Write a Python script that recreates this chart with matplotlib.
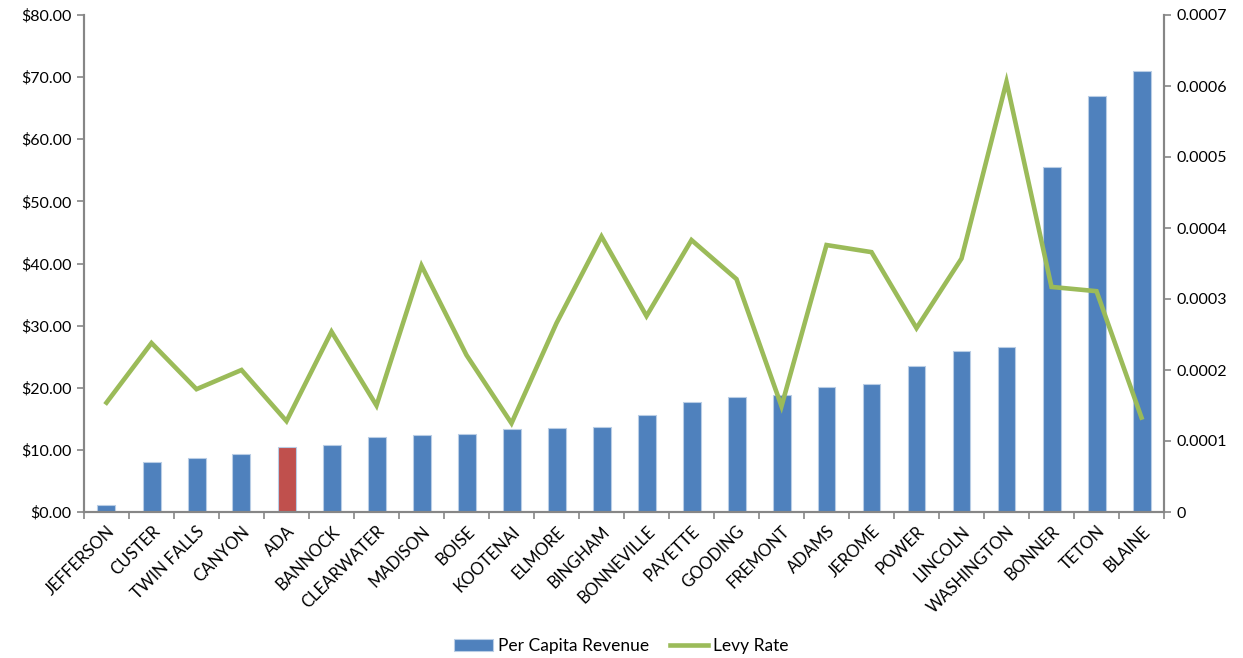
#!/usr/bin/env python3

import numpy as np
import matplotlib
matplotlib.use("Agg")
import matplotlib.pyplot as plt
from matplotlib.ticker import FuncFormatter, FixedLocator

counties = ["JEFFERSON", "CUSTER", "TWIN FALLS", "CANYON", "ADA", "BANNOCK",
            "CLEARWATER", "MADISON", "BOISE", "KOOTENAI", "ELMORE", "BINGHAM",
            "BONNEVILLE", "PAYETTE", "GOODING", "FREMONT", "ADAMS", "JEROME",
            "POWER", "LINCOLN", "WASHINGTON", "BONNER", "TETON", "BLAINE"]
per_capita = [1.2, 8.06, 8.77, 9.37, 10.46, 10.84, 12.15, 12.45, 12.55, 13.3,
              13.47, 13.68, 15.56, 17.76, 18.56, 18.83, 20.1, 20.53, 23.47,
              25.93, 26.52, 55.6, 66.94, 71.0]
levy_rate = [0.000154, 0.000238, 0.000173, 0.000200, 0.000128, 0.000254,
             0.000150, 0.000347, 0.000221, 0.000125, 0.000266, 0.000388,
             0.000276, 0.000383, 0.000328, 0.000149, 0.000376, 0.000366,
             0.000259, 0.000357, 0.000606, 0.000317, 0.000311, 0.000133]
highlight = "ADA"

blue = "#4F81BD"
red = "#C0504D"
green = "#9BBB59"
grey = "#868686"

plt.rcParams["font.family"] = ["Lato", "DejaVu Sans"]

fig = plt.figure(figsize=(12.43, 6.58), dpi=100)
ax = fig.add_axes([84 / 1243, 146 / 658, 1080 / 1243, 497 / 658])
ax2 = ax.twinx()

x = np.arange(len(counties))
colors = [red if c == highlight else blue for c in counties]
bars = ax.bar(x, per_capita, width=0.4, color=colors, edgecolor="#B9CDE5",
              linewidth=0.8, zorder=2)
line, = ax2.plot(x, levy_rate, color=green, linewidth=3.3,
                 solid_joinstyle="miter", zorder=3)

ax.set_xlim(-0.5, len(counties) - 0.5)
ax.set_ylim(0, 80)
ax2.set_ylim(0, 0.0007)

ax.set_yticks(np.arange(0, 81, 10))
ax.yaxis.set_major_formatter(FuncFormatter(lambda v, p: "${:.2f}".format(v)))
ax2.set_yticks(np.arange(0, 0.00071, 0.0001))
ax2.yaxis.set_major_formatter(FuncFormatter(lambda v, p: "0" if v == 0 else "{:.4f}".format(v)))

ax.set_xticks(x)
ax.set_xticklabels(counties, rotation=45, ha="right", rotation_mode="anchor",
                   fontsize=12, color="#000000")
ax.xaxis.set_minor_locator(FixedLocator(np.arange(-0.5, len(counties), 1.0)))
ax.tick_params(axis="x", which="major", length=0, pad=8)
ax.tick_params(axis="x", which="minor", length=5, color=grey, width=1.2)
ax.tick_params(axis="y", length=5, color=grey, width=1.2, labelsize=11.5, pad=4)
ax2.tick_params(axis="y", length=5, color=grey, width=1.2, labelsize=11.5, pad=4)

for a in (ax, ax2):
    a.spines["top"].set_visible(False)
    for s in ("left", "right", "bottom"):
        a.spines[s].set_color(grey)
        a.spines[s].set_linewidth(1.5)

ax.set_zorder(ax2.get_zorder() - 1)
ax.patch.set_visible(True)
ax2.patch.set_visible(False)

fig.legend([bars[0], line], ["Per Capita Revenue", "Levy Rate"],
           loc="center", bbox_to_anchor=(0.5, 12 / 658), ncol=2, frameon=False,
           fontsize=12.5, handlelength=2.2, columnspacing=1.2, handletextpad=0.3)
bars[0].set_facecolor(blue)

fig.savefig("out.png", dpi=100)
print("Graph created")
